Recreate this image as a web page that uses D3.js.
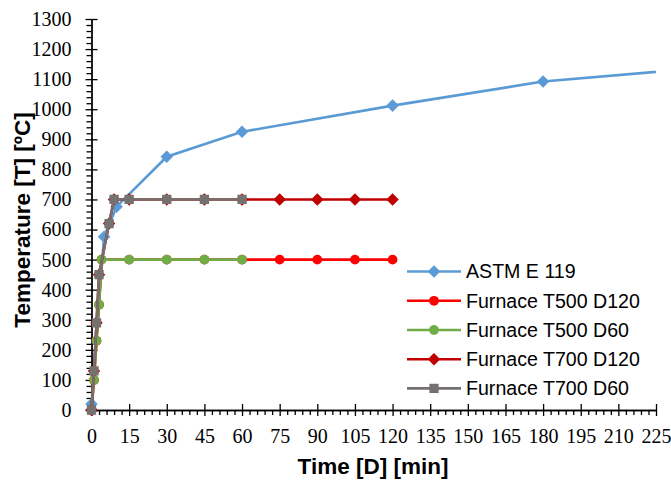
<!DOCTYPE html>
<html>
<head>
<meta charset="utf-8">
<script src="https://cdn.jsdelivr.net/npm/d3@7"></script>
<style>
  body { margin: 0; background: #fff; }
  svg { display: block; }
  .axis path, .axis line { stroke: #000; stroke-width: 1.3; }
  .axis text { font-family: "Liberation Serif", "Times New Roman", serif; font-size: 20px; fill: #000; }
  .title { font-family: "Liberation Sans", Arial, sans-serif; font-size: 22.5px; font-weight: bold; fill: #000; }
  .legend text { font-family: "Liberation Sans", Arial, sans-serif; font-size: 19.6px; fill: #000; }
</style>
</head>
<body>
<svg width="671" height="483"></svg>
<script>
// values
var xTicks = [0,15,30,45,60,75,90,105,120,135,150,165,180,195,210,225];
var yTicks = [0,100,200,300,400,500,600,700,800,900,1000,1100,1200,1300];

var astmTime = [0,5,10,30,60,120,180,240];
var astmTemp = [20,576,676,842,925,1012,1092,1135];

var t500d120Time = [0,1,2,3,4,15,30,45,60,75,90,105,120];
var t500d120Temp = [0,100,230,350,500,500,500,500,500,500,500,500,500];

var t500d60Time = [0,1,2,3,4,15,30,45,60];
var t500d60Temp = [0,100,230,350,500,500,500,500,500];

var t700d120Time = [0,1,2,3,7,9,15,30,45,60,75,90,105,120];
var t700d120Temp = [0,130,290,450,620,700,700,700,700,700,700,700,700,700];

var t700d60Time = [0,1,2,3,7,9,15,30,45,60];
var t700d60Temp = [0,130,290,450,620,700,700,700,700,700];

var seriesNames = ["ASTM E 119","Furnace T500 D120","Furnace T500 D60","Furnace T700 D120","Furnace T700 D60"];
var seriesColors = ["#5b9bd5","#ff0000","#70ad47","#c00000","#767171"];
var seriesMarkers = ["diamond","circle","circle","diamond","square"];

function zip(ts, vs) {
  return ts.map(function(t, i) { return {t: t, v: vs[i]}; });
}

var series = [
  zip(astmTime, astmTemp),
  zip(t500d120Time, t500d120Temp),
  zip(t500d60Time, t500d60Temp),
  zip(t700d120Time, t700d120Temp),
  zip(t700d60Time, t700d60Temp)
];

var svg = d3.select("svg"),
    margin = {top: 19, right: 15, bottom: 73, left: 91.5},
    width = svg.attr("width") - margin.left - margin.right,
    height = svg.attr("height") - margin.top - margin.bottom;

var x = d3.scaleLinear().domain([0, 225]).range([0, width]),
    y = d3.scaleLinear().domain([0, 1300]).range([height, 0]);

var g = svg.append("g")
    .attr("transform", "translate(" + margin.left + "," + margin.top + ")");

g.append("clipPath").attr("id", "plot-clip")
  .append("rect")
    .attr("x", -10).attr("y", -10)
    .attr("width", width + 10).attr("height", height + 20);

// minor ticks (outside only)
var xMinor = d3.range(0, 226, 3).filter(function(d) { return d % 15 !== 0; });
var yMinor = d3.range(0, 1301, 20).filter(function(d) { return d % 100 !== 0; });

g.append("g")
    .attr("class", "axis")
    .attr("transform", "translate(0," + height + ")")
    .call(d3.axisBottom(x).tickValues(xMinor).tickSize(5).tickFormat(""))
    .select(".domain").remove();

g.append("g")
    .attr("class", "axis")
    .call(d3.axisLeft(y).tickValues(yMinor).tickSize(5).tickFormat(""))
    .select(".domain").remove();

// major ticks cross the axis
g.append("g")
    .attr("class", "axis")
    .attr("transform", "translate(0," + height + ")")
    .call(d3.axisTop(x).tickValues(xTicks).tickSize(6).tickSizeOuter(0).tickFormat(""));

g.append("g")
    .attr("class", "axis")
    .call(d3.axisRight(y).tickValues(yTicks).tickSize(6).tickSizeOuter(0).tickFormat(""));

g.append("g")
    .attr("class", "axis axis--x")
    .attr("transform", "translate(0," + height + ")")
    .call(d3.axisBottom(x).tickValues(xTicks).tickSize(6).tickSizeOuter(0).tickPadding(13).tickFormat(d3.format("d")));

g.append("g")
    .attr("class", "axis axis--y")
    .call(d3.axisLeft(y).tickValues(yTicks).tickSize(6).tickSizeOuter(0).tickPadding(14).tickFormat(d3.format("d")));

var line = d3.line()
    .x(function(d) { return x(d.t); })
    .y(function(d) { return y(d.v); });

function symbolFor(kind) {
  if (kind == "diamond") return d3.symbol().type(d3.symbolDiamond2).size(100);
  if (kind == "square") return d3.symbol().type(d3.symbolSquare2).size(110);
  return d3.symbol().type(d3.symbolCircle).size(75);
}

var plot = g.append("g").attr("clip-path", "url(#plot-clip)");

series.forEach(function(data, i) {
  var layer = plot.append("g").attr("class", "layer");
  layer.append("path")
      .datum(data)
      .attr("fill", "none")
      .attr("stroke", seriesColors[i])
      .attr("stroke-width", 2.6)
      .attr("d", line);
  var sym = symbolFor(seriesMarkers[i]);
  layer.selectAll(".mark")
    .data(data.filter(function(d) { return d.t <= 225; }))
    .enter().append("path")
      .attr("class", "mark")
      .attr("fill", seriesColors[i])
      .attr("transform", function(d) {
        return "translate(" + x(d.t) + "," + y(d.v) + ")";
      })
      .attr("d", sym);
});

// axis titles
svg.append("text")
    .attr("class", "title")
    .attr("text-anchor", "middle")
    .attr("x", 373)
    .attr("y", 474)
    .text("Time [D] [min]");

svg.append("text")
    .attr("class", "title")
    .attr("text-anchor", "middle")
    .attr("transform", "translate(30,220) rotate(-90)")
    .text("Temperature [T] [ºC]");

// legend
var legend = svg.append("g").attr("class", "legend");
var legendY = [271.5, 300.8, 330, 359.2, 388.4];
seriesNames.forEach(function(name, i) {
  var row = legend.append("g").attr("transform", "translate(407," + legendY[i] + ")");
  row.append("line")
      .attr("x1", 0).attr("x2", 54)
      .attr("stroke", seriesColors[i])
      .attr("stroke-width", 2.6);
  row.append("path")
      .attr("fill", seriesColors[i])
      .attr("transform", "translate(27,0)")
      .attr("d", symbolFor(seriesMarkers[i]));
  row.append("text")
      .attr("x", 59)
      .attr("dy", "0.35em")
      .text(name);
});
</script>
</body>
</html>
